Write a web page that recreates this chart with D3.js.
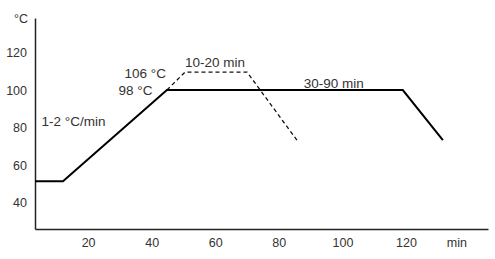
<!DOCTYPE html>
<html>
<head>
<meta charset="utf-8">
<script src="https://cdn.jsdelivr.net/npm/d3@7"></script>
<style>
  body { margin: 0; background: #fff; }
  text { font-family: "Liberation Sans", Arial, sans-serif; }
</style>
</head>
<body>
<svg id="drawing_region"></svg>
<script>
// main profile (solid): time [min], temperature [°C]
const mainTime = [3.3, 12.1, 44.8, 119, 131.6];
const mainTemp = [51.5, 51.5, 100, 100, 73.3];

// alternative profile (dashed)
const altTime = [44.8, 50.5, 70, 85.7];
const altTemp = [100, 109.6, 109.6, 73.3];

const xTicks = [20, 40, 60, 80, 100, 120];
const yTicks = [40, 60, 80, 100, 120];

// annotations: text, time, temp
const notes = [
    {text: '106 °C', t: 38.0, v: 109.0},
    {text: '98 °C', t: 34.9, v: 99.8},
    {text: '10-20 min', t: 59.9, v: 114.6},
    {text: '30-90 min', t: 97.3, v: 103.8},
    {text: '1-2 °C/min', t: 15.4, v: 83.5}
];

const config = {
    width: 495,
    height: 259,
    margin: {top: 18, right: 7, bottom: 30, left: 35}
};

const svg = d3.select('#drawing_region')
    .attr('width', config.width)
    .attr('height', config.height);

const inner_width = config.width - config.margin.left - config.margin.right;
const inner_height = config.height - config.margin.top - config.margin.bottom;

const chart = svg.append('g')
    .attr('transform', `translate(${config.margin.left}, ${config.margin.top})`);

const xscale = d3.scaleLinear()
    .domain([3.3, 145.8])
    .range([0, inner_width]);

const yscale = d3.scaleLinear()
    .domain([26, 138.4])
    .range([inner_height, 0]);

const xaxis = d3.axisBottom(xscale)
    .tickValues(xTicks)
    .tickSize(0)
    .tickPadding(9);

const yaxis = d3.axisLeft(yscale)
    .tickValues(yTicks)
    .tickSize(0)
    .tickPadding(8);

const xaxis_group = chart.append('g')
    .attr('transform', `translate(0, ${inner_height})`)
    .call(xaxis);

const yaxis_group = chart.append('g')
    .call(yaxis);

[xaxis_group, yaxis_group].forEach(g => {
    g.select('.domain').attr('stroke', '#222').attr('stroke-width', 1.5);
    g.selectAll('text')
        .style('font-size', '12.5px')
        .attr('fill', '#333');
});

// unit labels
chart.append('text')
    .attr('x', -7)
    .attr('y', yscale(138.4) + 5)
    .attr('text-anchor', 'end')
    .style('font-size', '12.5px')
    .attr('fill', '#333')
    .text('°C');

chart.append('text')
    .attr('x', xscale(136))
    .attr('y', inner_height + 18)
    .attr('text-anchor', 'middle')
    .style('font-size', '12.5px')
    .attr('fill', '#333')
    .text('min');

const line = d3.line()
    .x(d => xscale(d[0]))
    .y(d => yscale(d[1]));

chart.append('path')
    .datum(altTime.map((t, i) => [t, altTemp[i]]))
    .attr('d', line)
    .attr('fill', 'none')
    .attr('stroke', '#111')
    .attr('stroke-width', 1.3)
    .attr('stroke-dasharray', '4,3');

chart.append('path')
    .datum(mainTime.map((t, i) => [t, mainTemp[i]]))
    .attr('d', line)
    .attr('fill', 'none')
    .attr('stroke', '#000')
    .attr('stroke-width', 2);

chart.selectAll('.note')
    .data(notes)
    .enter()
    .append('text')
    .attr('class', 'note')
    .attr('x', d => xscale(d.t))
    .attr('y', d => yscale(d.v))
    .attr('dy', '0.35em')
    .attr('text-anchor', 'middle')
    .style('font-size', '13.5px')
    .attr('fill', '#333')
    .text(d => d.text);
</script>
</body>
</html>
